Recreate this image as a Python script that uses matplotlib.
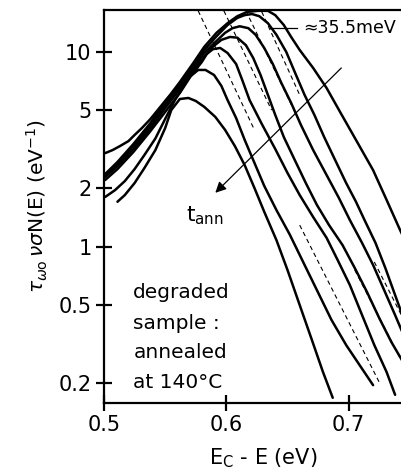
import matplotlib
matplotlib.use("Agg")
import matplotlib.pyplot as plt

# Trap density spectra after successive anneals at 140 C (energy below E_C in eV)
e1 = [0.511, 0.517, 0.525, 0.533, 0.542, 0.550, 0.555, 0.562, 0.569, 0.575, 0.582, 0.591,
      0.599, 0.607, 0.615, 0.623, 0.631, 0.641, 0.650, 0.660, 0.670, 0.679, 0.687]
n1 = [1.70, 1.84, 2.12, 2.53, 3.13, 4.06, 5.02, 5.72, 5.79, 5.59, 5.21, 4.63,
      3.97, 3.28, 2.62, 2.00, 1.51, 1.08, 0.760, 0.502, 0.332, 0.228, 0.168]

e2 = [0.501, 0.509, 0.517, 0.525, 0.533, 0.542, 0.550, 0.558, 0.565, 0.570, 0.577, 0.583,
      0.590, 0.596, 0.601, 0.608, 0.615, 0.623, 0.631, 0.641, 0.652, 0.662, 0.674, 0.686,
      0.698, 0.709, 0.720]
n2 = [1.80, 1.95, 2.17, 2.50, 2.95, 3.59, 4.52, 5.65, 6.67, 7.42, 8.06, 8.06,
      7.59, 6.67, 5.65, 4.57, 3.53, 2.69, 2.05, 1.54, 1.15, 0.855, 0.600, 0.421,
      0.313, 0.247, 0.195]

e3 = [0.501, 0.511, 0.524, 0.538, 0.550, 0.562, 0.571, 0.580, 0.584, 0.589, 0.595, 0.601,
      0.608, 0.613, 0.619, 0.629, 0.640, 0.650, 0.660, 0.671, 0.682, 0.691, 0.701, 0.711,
      0.721, 0.731, 0.738]
n3 = [2.20, 2.50, 3.06, 3.92, 4.91, 6.14, 7.51, 8.86, 9.73, 10.3, 10.45, 9.85,
      8.65, 7.16, 5.65, 4.26, 3.17, 2.39, 1.84, 1.42, 1.11, 0.855, 0.636, 0.446,
      0.313, 0.228, 0.174]

e4 = [0.501, 0.511, 0.524, 0.538, 0.550, 0.562, 0.572, 0.581, 0.589, 0.596, 0.603, 0.609,
      0.616, 0.622, 0.628, 0.634, 0.640, 0.647, 0.656, 0.665, 0.674, 0.684, 0.695, 0.705,
      0.715, 0.725, 0.735, 0.746]
n4 = [2.28, 2.59, 3.17, 4.06, 5.14, 6.44, 7.87, 9.28, 10.6, 11.5, 11.9, 11.8,
      10.8, 9.28, 7.59, 6.00, 4.74, 3.65, 2.78, 2.12, 1.64, 1.29, 1.02, 0.778,
      0.586, 0.431, 0.324, 0.247]

e5 = [0.501, 0.511, 0.524, 0.538, 0.550, 0.562, 0.573, 0.582, 0.591, 0.599, 0.605, 0.611,
      0.618, 0.624, 0.631, 0.638, 0.645, 0.653, 0.661, 0.671, 0.682, 0.692, 0.701, 0.711,
      0.720, 0.729, 0.738, 0.746]
n5 = [2.30, 2.66, 3.28, 4.21, 5.33, 6.67, 8.25, 9.85, 11.2, 12.5, 13.2, 13.5,
      13.2, 12.2, 10.45, 8.65, 6.91, 5.46, 4.21, 3.13, 2.33, 1.78, 1.37, 1.045,
      0.806, 0.600, 0.446, 0.340]

e6 = [0.501, 0.511, 0.524, 0.538, 0.551, 0.562, 0.573, 0.582, 0.592, 0.601, 0.609, 0.615,
      0.621, 0.627, 0.634, 0.641, 0.649, 0.657, 0.664, 0.672, 0.680, 0.689, 0.698, 0.706,
      0.713, 0.722, 0.730, 0.738, 0.746]
n6 = [2.36, 2.72, 3.36, 4.31, 5.65, 6.83, 8.45, 10.2, 12.0, 13.7, 14.9, 15.4,
      15.6, 15.2, 14.0, 12.2, 9.97, 7.59, 6.00, 4.74, 3.65, 2.78, 2.12, 1.70,
      1.37, 1.045, 0.778, 0.565, 0.411]

e7 = [0.501, 0.507, 0.513, 0.520, 0.525, 0.531, 0.538, 0.546, 0.554, 0.562, 0.573, 0.582,
      0.592, 0.601, 0.609, 0.617, 0.626, 0.634, 0.640, 0.647, 0.653, 0.660, 0.671, 0.682,
      0.693, 0.707, 0.720, 0.731, 0.742, 0.746]
n7 = [3.02, 3.13, 3.28, 3.48, 3.74, 4.06, 4.52, 5.21, 6.00, 6.99, 8.75, 10.6,
      12.5, 14.0, 15.2, 16.0, 16.2, 16.2, 15.4, 13.7, 11.9, 10.2, 8.25, 6.51,
      4.91, 3.44, 2.47, 1.74, 1.22, 1.08]

curves = [(e1, n1), (e2, n2), (e3, n3), (e4, n4), (e5, n5), (e6, n6), (e7, n7)]

# exponential tail fits (straight on the log axis), given by their end points
fit_e = [(0.577, 0.623), (0.598, 0.637), (0.616, 0.660), (0.629, 0.660),
         (0.660, 0.725), (0.705, 0.742), (0.721, 0.746)]
fit_n = [(16.2, 3.97), (16.2, 5.02), (16.2, 4.36), (16.0, 6.00),
         (1.29, 0.202), (0.760, 0.269), (0.835, 0.411)]

yticks = [0.2, 0.5, 1, 2, 5, 10]
ytick_labels = ['0.2', '0.5', '1', '2', '5', '10']
xticks = [0.5, 0.6, 0.7]
xtick_labels = ['0.5', '0.6', '0.7']

plt.rcParams['font.family'] = ['DejaVu Sans']
plt.rcParams['mathtext.fontset'] = 'dejavusans'

fig = plt.figure(figsize=(4.01, 4.76), dpi=100)
ax = fig.add_axes([0.2594, 0.1534, 0.793, 0.8256])

for e, n in curves:
    ax.plot(e, n, color='black', linewidth=1.8, solid_capstyle='round')

for fe, fn in zip(fit_e, fit_n):
    ax.plot(fe, fn, color='black', linewidth=0.8, linestyle=(0, (4, 3)))

ax.set_yscale('log')
ax.set_xlim(0.5, 0.76)
ax.set_ylim(0.158, 16.36)
ax.set_yticks(yticks)
ax.set_yticklabels(ytick_labels)
ax.set_xticks(xticks)
ax.set_xticklabels(xtick_labels)
ax.minorticks_off()
ax.tick_params(direction='inout', length=12, width=1.6, labelsize=15, pad=3)
for s in ax.spines.values():
    s.set_linewidth(1.6)
ax.spines['right'].set_visible(False)

ax.set_xlabel(r'E$_\mathrm{C}$ - E (eV)', fontsize=15, labelpad=8)
ax.set_ylabel(r'$\tau_{\omega\mathrm{o}}\,\nu\sigma$N(E) (eV$^{-1}$)', fontsize=14.5, labelpad=6)

# slope marker of the tail fits
ax.plot([0.636, 0.658], [13.2, 13.2], color='black', linewidth=0.9)
ax.text(0.663, 13.2, '≈35.5meV', fontsize=12.5, va='center', ha='left')

# direction of increasing annealing time
ax.annotate('', xy=(0.591, 1.89), xytext=(0.694, 8.25),
            arrowprops=dict(arrowstyle='-|>', color='black', linewidth=0.9,
                            mutation_scale=16, shrinkA=0, shrinkB=0))
ax.text(0.567, 1.45, r'$\mathrm{t}_{\mathrm{ann}}$', fontsize=15.5, va='center', ha='left')

for label, yb in zip(['degraded', 'sample :', 'annealed', 'at 140°C'],
                     [0.546, 0.378, 0.269, 0.1886]):
    ax.text(0.524, yb, label, fontsize=14.5, va='baseline', ha='left')

fig.savefig('out.png', dpi=100)
